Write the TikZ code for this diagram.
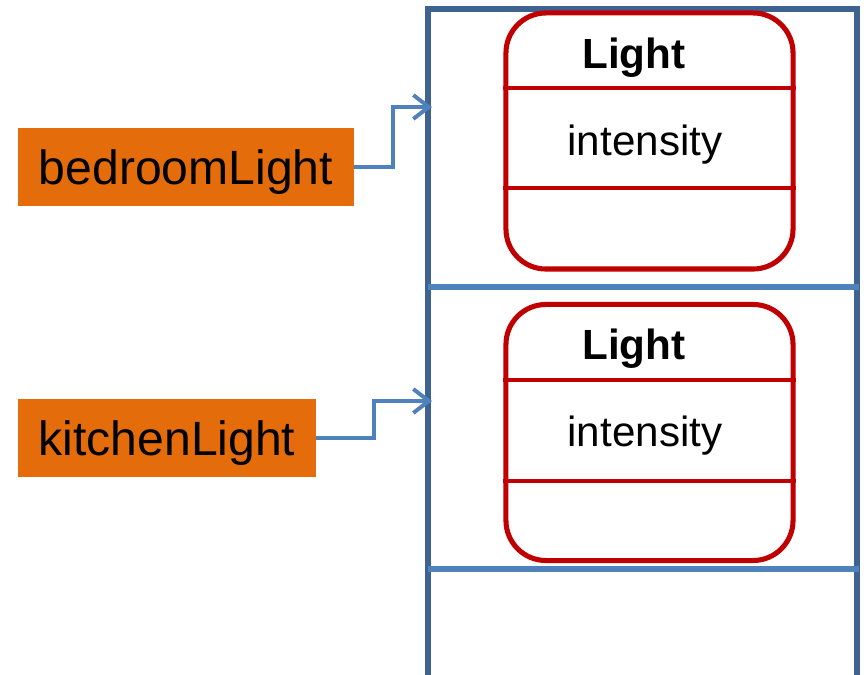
\documentclass[tikz,border=0pt]{standalone}
\usepackage{fontspec}
\setmainfont{Liberation Sans}
\usetikzlibrary{arrows.meta}
\definecolor{framecol}{HTML}{3F6391}
\definecolor{linkcol}{HTML}{4F81BD}
\definecolor{classcol}{HTML}{C00000}
\definecolor{varcol}{HTML}{E46C0A}
\tikzset{>={Straight Barb[length=11pt,width=17pt,line width=2.8pt]}}

\begin{document}
\begin{tikzpicture}[x=0.025cm,y=-0.025cm,
    varbox/.style={fill=varcol, inner sep=0pt, minimum height=1.95cm, text depth=0pt, font=\fontsize{34.2}{38}\selectfont},
    classbox/.style={draw=classcol, line width=3.6pt, rounded corners=1cm, minimum width=7.175cm, minimum height=6.4cm},
    compart/.style={classcol, line width=2.3pt},
    link/.style={linkcol, line width=2.9pt, ->},
    heapline/.style={framecol, line width=3.6pt},
    slotline/.style={linkcol, line width=3.6pt}]
    \useasboundingbox (0,0) rectangle (864,675);
    % heap
    \draw[heapline] (428,675) -- (428,9) -- (857,9) -- (857,675);
    \draw[slotline] (428,287) -- (859,287);
    \draw[slotline] (428,569) -- (859,569);
    % objects
    \node[classbox] (obj1) at (649.5,141) {};
    \node[classbox] (obj2) at (649.5,432.5) {};
    \draw[compart] (obj1.west |- 0,88) -- (obj1.east |- 0,88);
    \draw[compart] (obj1.west |- 0,188) -- (obj1.east |- 0,188);
    \draw[compart] (obj2.west |- 0,380) -- (obj2.east |- 0,380);
    \draw[compart] (obj2.west |- 0,481) -- (obj2.east |- 0,481);
    \node[font=\fontsize{30}{34}\selectfont\bfseries] (name1) at (634,58) {Light};
    \node[font=\fontsize{30}{34}\selectfont] (attr1) at (645,145) {intensity};
    \node[font=\fontsize{30}{34}\selectfont\bfseries] (name2) at (634,349) {Light};
    \node[font=\fontsize{30}{34}\selectfont] (attr2) at (645,436) {intensity};
    % references
    \node[varbox, minimum width=8.4cm] (bedroom) at (186,167) {bedroomLight};
    \node[varbox, minimum width=7.45cm] (kitchen) at (167,438) {kitchenLight};
    \coordinate (ref1) at (432,107);
    \coordinate (ref2) at (432,401);
    \draw[link] (bedroom.east) -- ++(39,0) |- (ref1);
    \draw[link] (kitchen.east) -- ++(58,0) |- (ref2);
\end{tikzpicture}
\end{document}
